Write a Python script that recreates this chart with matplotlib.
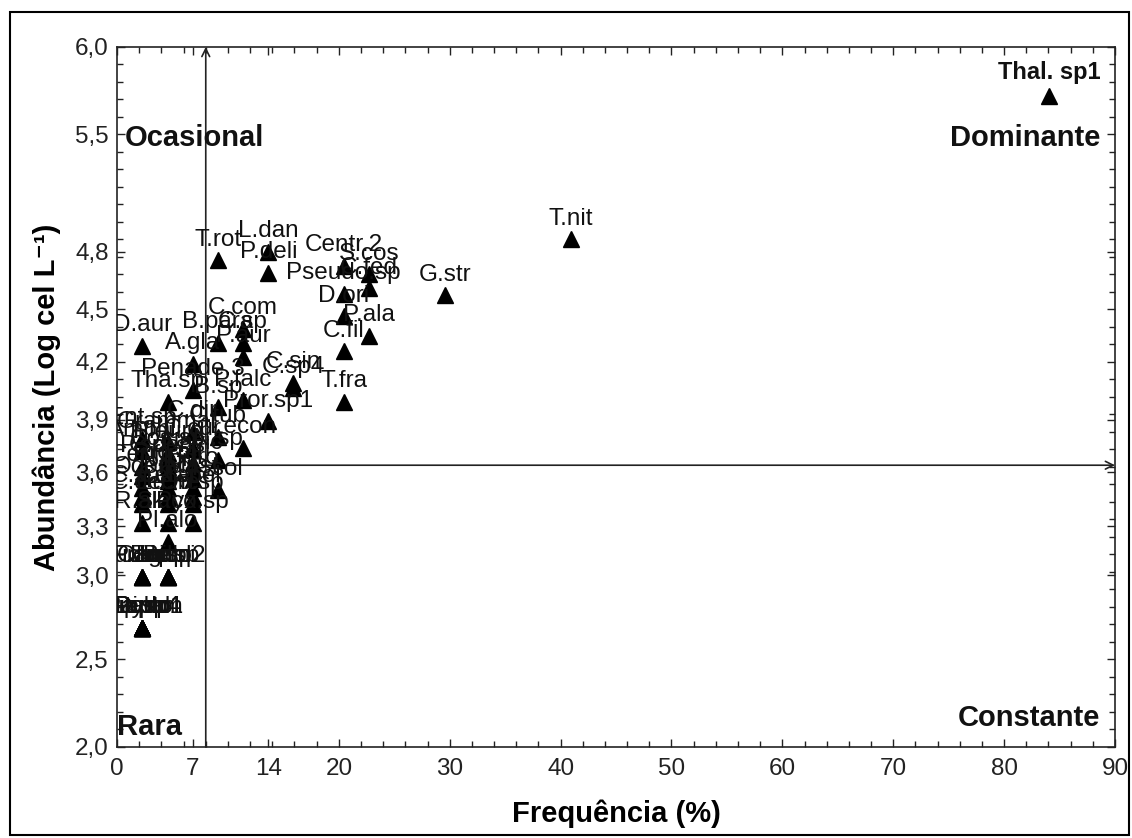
import matplotlib
matplotlib.use("Agg")
import matplotlib.pyplot as plt
from matplotlib.patches import Rectangle
from matplotlib.ticker import FixedLocator, MultipleLocator

plt.rcParams['font.family'] = ['Liberation Sans', 'DejaVu Sans']

# ---- data -------------------------------------------------------------
species = [
    "T.nit", "G.str", "Centr.2", "S.cos", "C.fed", "Pseudo.sp", "D.ori",
    "P.ala", "C.fil", "T.fra", "T.rot", "L.dan", "P.deli", "C.com", "C.sp",
    "B.para", "P.aur", "D.aur", "A.gla", "Penade.3", "P.falc", "B.sp",
    "C.sin", "C.sp4", "Tha.sp", "Pror.sp1", "C.dir", "C.tub", "Lecon",
    "Amphi", "Pleuro", "C.cur", "P.sp", "C.dens", "Navic", "N.sp", "N.lon",
    "Gyro", "P.sol", "C.sp3", "Cerat", "C.pel", "C.dec", "Eu.ne", "Ob.sp",
    "R.ala", "Sk.co", "Pyx.sp", "Pl.alo", "P.cap", "Eu.sp2", "Eucamp",
    "Bidd", "C.lor", "Hemi", "Diplo", "Paral", "Lepto", "Ditylum",
    "Podo", "Dip.sp1", "Pa.sp4",
    "Cer.fu", "Pro.mi", "Stri", "Odon", "Plag", "Mast", "Cos.sp", "Ent.sp",
    "Grammat", "Fragil", "Lic.sp",
]
frequency = [
    40.91, 29.55, 20.45, 22.73, 22.73, 20.45, 20.45,
    22.73, 20.45, 20.45, 9.09, 13.64, 13.64, 11.36, 11.36,
    9.09, 11.36, 2.27, 6.82, 6.82, 11.36, 9.09,
    15.91, 15.91, 4.55, 13.64, 6.82, 9.09, 11.36,
    2.27, 4.55, 6.82, 2.27, 4.55, 6.82, 9.09, 4.55,
    6.82, 9.09, 2.27, 4.55, 6.82, 2.27, 4.55, 6.82,
    2.27, 4.55, 6.82, 4.55, 2.27, 4.55, 2.27,
    4.55, 2.27, 4.55, 2.27, 2.27, 2.27, 2.27,
    2.27, 2.27, 2.27,
    2.27, 4.55, 6.82, 2.27, 4.55, 6.82, 4.55, 2.27,
    4.55, 2.27, 4.55,
]
abundance = [
    4.90, 4.58, 4.75, 4.70, 4.62, 4.59, 4.46,
    4.35, 4.26, 3.97, 4.78, 4.83, 4.71, 4.39, 4.31,
    4.31, 4.23, 4.29, 4.19, 4.04, 3.98, 3.94,
    4.08, 4.05, 3.97, 3.86, 3.80, 3.77, 3.71,
    3.69, 3.68, 3.70, 3.60, 3.60, 3.62, 3.64, 3.52,
    3.53, 3.47, 3.43, 3.43, 3.43, 3.39, 3.39, 3.39,
    3.28, 3.28, 3.28, 3.17, 2.97, 2.97, 2.97,
    2.97, 2.97, 2.97, 2.68, 2.68, 2.68, 2.68,
    2.68, 2.68, 2.68,
    3.55, 3.56, 3.58, 3.48, 3.48, 3.48, 3.64, 3.76,
    3.74, 2.97, 2.97,
]
dominant_name = "Thal. sp1"
dominant_freq = 84.09
dominant_abund = 5.72

freq_cut = 8.0
abund_cut = 3.61

x_tick_pos = [0, 6.82, 13.64, 20, 30, 40, 50, 60, 70, 80, 90]
x_tick_lab = ["0", "7", "14", "20", "30", "40", "50", "60", "70", "80", "90"]
y_tick_pos = [2.0, 2.5, 2.98, 3.26, 3.57, 3.87, 4.2, 4.5, 4.83, 5.5, 6.0]
y_tick_lab = ["2,0", "2,5", "3,0", "3,3", "3,6", "3,9", "4,2", "4,5", "4,8", "5,5", "6,0"]

quadrants = ["Ocasional", "Dominante", "Rara", "Constante"]

# ---- figure -----------------------------------------------------------
fig = plt.figure(figsize=(11.32, 8.38), dpi=100)
fig.patches.append(Rectangle((0.009, 0.004), 0.988, 0.982, transform=fig.transFigure,
                             fill=False, edgecolor='black', linewidth=1.5))
ax = fig.add_axes([0.1034, 0.1086, 0.8816, 0.8354])
ax.set_xlim(0, 90)
ax.set_ylim(2.0, 6.0)

# threshold lines with arrows
ax.annotate("", xy=(freq_cut, 6.0), xytext=(freq_cut, 2.0),
            arrowprops=dict(arrowstyle='->', color='#222222', lw=1.2,
                            shrinkA=0, shrinkB=0, mutation_scale=14))
ax.annotate("", xy=(90, abund_cut), xytext=(freq_cut, abund_cut),
            arrowprops=dict(arrowstyle='->', color='#222222', lw=1.2,
                            shrinkA=0, shrinkB=0, mutation_scale=14))

# points
ax.plot(frequency, abundance, linestyle='none', marker='^', markersize=11,
        color='black', zorder=3)
ax.plot([dominant_freq], [dominant_abund], linestyle='none', marker='^',
        markersize=11, color='black', zorder=3)

for name, fx, fy in zip(species, frequency, abundance):
    ax.annotate(name, (fx, fy), xytext=(0, 15), textcoords='offset points',
                ha='center', va='center', fontsize=17.5, color='#111111',
                clip_on=True, annotation_clip=True, zorder=4)
ax.annotate(dominant_name, (dominant_freq, dominant_abund), xytext=(0, 17),
            textcoords='offset points', ha='center', va='center',
            fontsize=17, fontweight='bold', color='#111111')

# quadrant labels
quad_pos = {"Ocasional": (0.008, 0.87, 'left'),
            "Dominante": (0.985, 0.87, 'right'),
            "Rara": (0.0, 0.029, 'left'),
            "Constante": (0.985, 0.041, 'right')}
for text in quadrants:
    xx, yy, ha = quad_pos[text]
    ax.text(xx, yy, text, transform=ax.transAxes, fontsize=21, fontweight='bold',
            ha=ha, va='center', color='#111111')

# ticks
ax.xaxis.set_major_locator(FixedLocator(x_tick_pos))
ax.set_xticklabels(x_tick_lab)
ax.xaxis.set_minor_locator(MultipleLocator(2))
ax.yaxis.set_major_locator(FixedLocator(y_tick_pos))
ax.set_yticklabels(y_tick_lab)
ax.yaxis.set_minor_locator(MultipleLocator(0.1))
ax.tick_params(which='both', direction='in', top=True, right=True,
               labelsize=17.5, colors='#222222')
ax.tick_params(which='major', length=6, width=1)
ax.tick_params(which='minor', length=4, width=1)
ax.tick_params(axis='x', pad=8)
ax.tick_params(axis='y', pad=6)
for s in ax.spines.values():
    s.set_linewidth(1.2)
    s.set_color('#222222')

ax.set_xlabel("Frequência (%)", fontsize=21, fontweight='bold', labelpad=14)
ax.set_ylabel("Abundância (Log cel L⁻¹)", fontsize=21,
              fontweight='bold', labelpad=10)

fig.savefig("out.png", dpi=100)
